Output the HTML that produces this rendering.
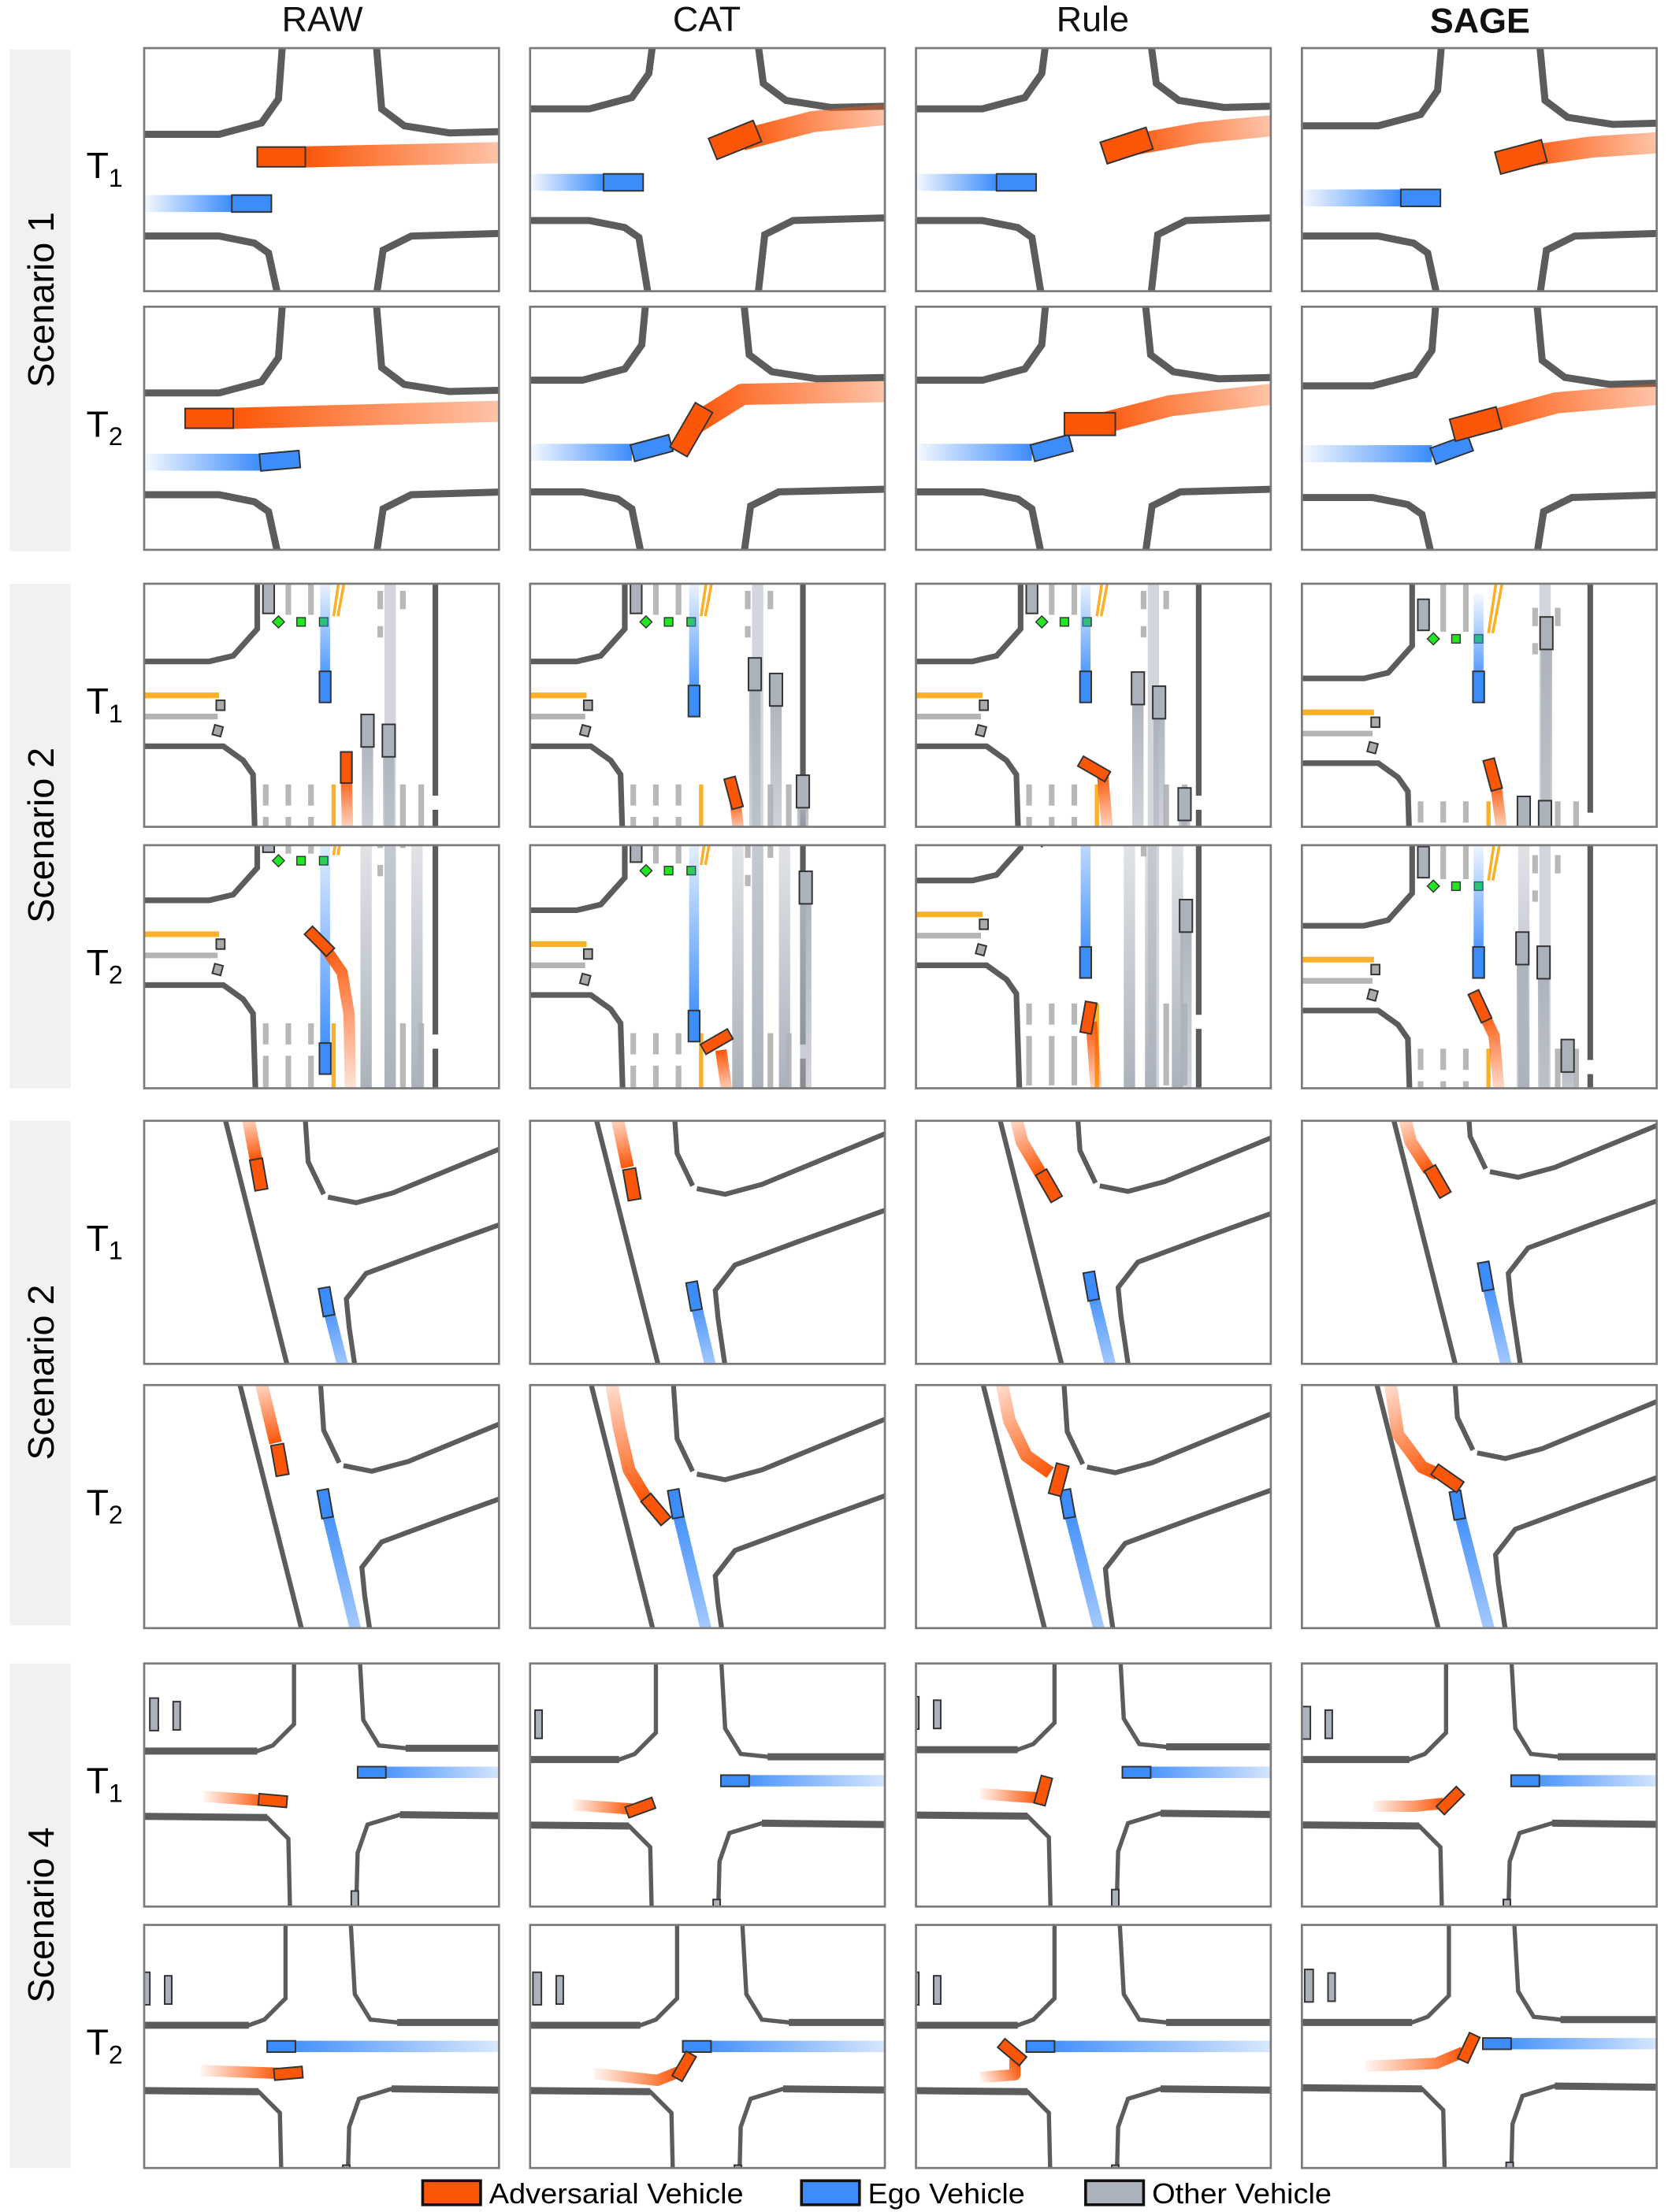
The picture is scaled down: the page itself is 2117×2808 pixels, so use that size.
<!DOCTYPE html>
<html><head><meta charset="utf-8">
<style>
html,body{margin:0;padding:0;background:#fff;}
svg{display:block;font-family:"Liberation Sans",Arial,sans-serif;}
</style></head>
<body>
<svg id="fig" xmlns="http://www.w3.org/2000/svg" width="2117" height="2808" viewBox="0 0 1180 1565.1">
<defs>
<clipPath id="pclip"><rect x="0" y="0" width="251" height="172"/></clipPath>
</defs>
<g font-size="25" text-anchor="middle" fill="#111">
<text x="228" y="22">RAW</text>
<text x="500" y="22">CAT</text>
<text x="773" y="22">Rule</text>
<text x="1047" y="23" font-weight="bold">SAGE</text>
</g>
<g>
<rect x="7" y="35" width="43" height="355" fill="#f1f1f1"/>
<rect x="7" y="413" width="43" height="357" fill="#f1f1f1"/>
<rect x="7" y="793" width="43" height="357" fill="#f1f1f1"/>
<rect x="7" y="1177" width="43" height="357" fill="#f1f1f1"/>
<text font-size="26" text-anchor="middle" transform="translate(38,212) rotate(-90)">Scenario 1</text>
<text font-size="26" text-anchor="middle" transform="translate(38,591) rotate(-90)">Scenario 2</text>
<text font-size="26" text-anchor="middle" transform="translate(38,971) rotate(-90)">Scenario 2</text>
<text font-size="26" text-anchor="middle" transform="translate(38,1355) rotate(-90)">Scenario 4</text>
</g>
<g id="tlabels" font-size="26"></g>
<g id="panels"></g>
<g font-size="20">
<rect x="299" y="1543" width="41" height="17" fill="#fc5608" stroke="#111" stroke-width="2"/>
<text x="346" y="1559" textLength="180" lengthAdjust="spacingAndGlyphs">Adversarial Vehicle</text>
<rect x="567" y="1543" width="41" height="17" fill="#3c8cfc" stroke="#111" stroke-width="2"/>
<text x="614" y="1559" textLength="111" lengthAdjust="spacingAndGlyphs">Ego Vehicle</text>
<rect x="768" y="1543" width="41" height="17" fill="#acb2bc" stroke="#111" stroke-width="2"/>
<text x="815" y="1559" textLength="127" lengthAdjust="spacingAndGlyphs">Other Vehicle</text>
</g>
</svg>
<script>
// ---- layout data ----
const colX = [102, 375, 648, 921];
const rowY = [34, 217, 413, 598, 793, 980, 1177, 1362];
const colNames = ['raw', 'cat', 'rule', 'sage'];
const rowScen = [1, 1, 2, 2, 3, 3, 4, 4];
const rowTime = [1, 2, 1, 2, 1, 2, 1, 2];

// ---- scenario 1: road params [l, r, t, b] per row(0..1) x col ----
const s1Road = [
  [[98,164,61,133],[87,161,43,122],[92,166,43,122],[99,168,55,133]],
  [[98,164,61,133],[82,151,52,131],[92,162,52,131],[95,166,56,135]]
];
// vehicles: [cx, cy, w, h, rot]
const s1Adv = [
  [[97,77,34,14,0],[145,65,34,16,-22],[149,69,34,16,-18],[155,77,34,16,-15]],
  [[46,79,34,14,0],[114,87,36,14,-60],[123,83,36,16,0],[123,83,34,16,-15]]
];
const s1AdvTrail = [
  [[[251,74],[114,77]], [[251,47],[200,52],[150,65]], [[251,55],[200,60],[150,69]], [[251,67],[205,70],[155,77]]],
  [[[251,74],[63,79]], [[251,60],[150,62],[118,82]], [[251,62],[180,70],[130,83]], [[251,62],[180,68],[125,83]]]
];
const s1Ego = [
  [[76,110,28,12,0],[66,95,28,12,0],[71,95,28,12,0],[84,106,28,12,0]],
  [[96,109,28,12,-5],[86,100,28,12,-15],[96,100,28,12,-15],[106,101,28,12,-20]]
];
const s1EgoTrail = [
  [[[0,110],[62,110]], [[0,95],[52,95]], [[0,95],[57,95]], [[0,106],[70,106]]],
  [[[0,110],[82,110]], [[0,103],[72,103]], [[0,103],[82,103]], [[0,104],[92,104]]]
];

// ---- scenario 2 (urban crossing) ----
const s2Shift = [[[0,0],[-13,0],[-6,0],[-2,12]], [[0,-16],[-13,-9],[-6,-30],[-2,2]]];
const s2Ego = [[[128,73,0],[116,83,0],[120,73,0],[125,73,0]], [[128,151,0],[116,128,0],[120,83,0],[125,83,0]]];
const s2Adv = [[[143,130,0],[144,148,-15],[126,131,-60],[135,135,-15]], [[124,68,-45],[132,139,60],[122,122,10],[126,114,-25]]];
const s2AdvTrail = [
  [[[144,180],[143,135]], [[148,180],[145,152]], [[136,180],[132,135]], [[142,180],[137,140]]],
  [[[146,180],[145,120],[140,90],[126,70]], [[140,180],[135,145]], [[128,180],[124,125]], [[140,180],[136,135],[128,118]]]
];
const s2Others = [
  [[[158,104],[173,111]], [[159,64],[174,75],[193,147]], [[157,74],[172,84],[190,156]], [[173,35],[157,162],[172,165]]],
  [[], [[195,30]], [[191,50]], [[156,73],[171,83],[188,149]]]
];
// extra full-height gray trajectory lanes (x positions) for T2 panels
const s2Lanes = [
  [[], [], [], []],
  [[157,174,193], [147,161,180], [151,166,185], [157]]
];

// ---- scenario 3 (diagonal road) ----
const s3Shift = [[[0,0],[-12,-6],[0,-8],[3,-18]], [[11,3],[-12,9],[-9,4],[-6,-6]]];
const s3Adv = [[[81,38,-10],[72,45,-10],[94,46,-30],[96,43,-30]], [[96,53,-10],[89,88,-40],[101,67,15],[103,66,-55]]];
const s3AdvTrail = [
  [[[73,-5],[79,27]], [[61,-5],[69,33]], [[70,-5],[75,15],[88,37]], [[72,-5],[77,15],[90,35]]],
  [[[82,-5],[93,41]], [[57,-5],[63,30],[70,60],[82,80]], [[60,-5],[66,25],[78,50],[95,62]], [[62,-5],[68,35],[85,58],[96,63]]]
];
const s3Ego = [[[129,128,-10],[116,124,-10],[124,117,-10],[130,110,-10]], [[128,84,-10],[103,84,-10],[107,84,-10],[110,85,-10]]];
const s3EgoEnd = [[[141,175],[128,175],[138,175],[145,175]], [[150,175],[125,175],[130,175],[133,175]]];

// ---- scenario 4 (four-way) ----
const s4Shift = [[[0,0],[-17,6],[-8,-1],[-4,6]], [[-6,9],[-2,9],[-8,9],[-2,7]]];
const s4Ego = [[[161,77],[145,83],[156,77],[158,83]], [[97,86],[118,86],[88,86],[138,84]]];
const s4Adv = [[[91,97,5],[78,102,-20],[90,90,-75],[105,97,-45]], [[102,105,-5],[109,100,-60],[68,90,40],[118,87,-65]]];
const s4AdvTrail = [
  [[[42,94],[85,97]], [[30,100],[72,103]], [[45,92],[70,94],[86,95]], [[50,101],[80,101],[100,99]]],
  [[[40,103],[95,105]], [[45,105],[90,110],[105,104]], [[45,108],[70,106],[70,95]], [[45,100],[95,98],[114,90]]]
];

// ---- helpers ----
const NS = 'http://www.w3.org/2000/svg';
let gid = 0;
function mk(tag, attrs, parent) {
  const e = document.createElementNS(NS, tag);
  for (const k in attrs) e.setAttribute(k, attrs[k]);
  if (parent) parent.appendChild(e);
  return e;
}
const defs = document.querySelector('defs');
const ROAD = '#5c5c5c';
const ADV = '#fc5608', EGO = '#3c8cfc', OTH = '#acb2bc';

function trail(parent, pts, color, width, name, fadeOpacity) {
  const id = 'g' + (gid++);
  const a = pts[0], b = pts[pts.length - 1];
  const lg = mk('linearGradient', {id: id, gradientUnits: 'userSpaceOnUse', x1: a[0], y1: a[1], x2: b[0], y2: b[1]}, defs);
  mk('stop', {offset: '0', 'stop-color': color, 'stop-opacity': fadeOpacity}, lg);
  mk('stop', {offset: '1', 'stop-color': color, 'stop-opacity': '1'}, lg);
  const d = 'M' + pts.map(p => p[0] + ',' + p[1]).join(' L');
  const p = mk('path', {d: d, fill: 'none', stroke: 'url(#' + id + ')', 'stroke-width': width, 'stroke-linejoin': 'round'}, parent);
  
  
  return p;
}
function car(parent, cx, cy, w, h, rot, fill, name) {
  const r = mk('rect', {x: cx - w / 2, y: cy - h / 2, width: w, height: h, fill: fill, stroke: '#333', 'stroke-width': 1.1,
    transform: 'rotate(' + rot + ' ' + cx + ' ' + cy + ')'}, parent);
  
  
  return r;
}
function road(parent, d, w, name, color) {
  const p = mk('path', {d: d, fill: 'none', stroke: color || ROAD, 'stroke-width': w, 'stroke-linejoin': 'miter'}, parent);
  
  
  return p;
}

// ---- scenario drawers ----
function drawS1(g, t, c) {
  const [l, r, tp, b] = s1Road[t][c];
  road(g, `M-5,${tp} L${l-45},${tp} L${l-15},${tp-8} L${l-3},${tp-25} L${l},-5`, 5, 'curb-top-left');
  road(g, `M${r},-5 L${r+4},${tp-18} L${r+20},${tp-6} L${r+52},${tp-1} L256,${tp-2}`, 5, 'curb-top-right');
  road(g, `M-5,${b} L${l-45},${b} L${l-20},${b+5} L${l-10},${b+12} L${l-3},177`, 5, 'curb-bottom-left');
  road(g, `M${r},177 L${r+5},${b+10} L${r+25},${b} L256,${b-2}`, 5, 'curb-bottom-right');
  trail(g, s1EgoTrail[t][c], EGO, 12, 'ego-trajectory', 0.05);
  trail(g, s1AdvTrail[t][c], ADV, 15, 'adversarial-trajectory', 0.35);
  const e = s1Ego[t][c];
  car(g, e[0], e[1], e[2], e[3], e[4], EGO, 'ego-vehicle');
  const a = s1Adv[t][c];
  car(g, a[0], a[1], a[2], a[3], a[4], ADV, 'adversarial-vehicle');
}

function drawS2(g, t, c) {
  const [dx, dy] = s2Shift[t][c];
  const m = mk('g', {transform: `translate(${dx},${dy})`}, g);
  
  
  const stripes = [[102,-30,22],[118,-30,22],[86,142,157],[102,142,157],[118,142,157],[86,165,200],[102,165,200],[118,165,200],[183,142,200],[196,142,200],[167,5,18],[167,30,38],[183,5,18]];
  for (const s of stripes) {
    road(m, `M${s[0]},${s[1]} L${s[0]},${s[2]}`, 4, 'crosswalk-stripe', '#b8b8b8');
  }
  road(m, 'M0,79 L53,79', 4, 'lane-line-yellow', '#fbb02a');
  road(m, 'M0,94 L52,94', 4, 'lane-line-gray', '#b4b4b4');
  road(m, 'M134,142 L134,230', 3, 'center-line-yellow', '#fbb02a');
  road(m, 'M134,23 L142,-30 M137,23 L147,-30', 2, 'turn-line-yellow', '#fbb02a');
  const lt = mk('rect', {x: 170, y: -40, width: 8, height: 260, fill: '#c8ccd3', opacity: 0.8}, m);
  
  
  road(m, 'M80,-40 L80,32 L63,51 L46,55 L-10,55', 4, 'curb-top-left');
  road(m, 'M-10,115 L56,115 L70,125 L77,135 L80,230', 4, 'curb-bottom-left');
  road(m, 'M206,-40 L206,150 M206,160 L206,230', 4, 'curb-right');
  car(m, 54, 86, 6, 7, 0, '#aaaaaa', 'parked-object');
  car(m, 52, 104, 6, 7, 15, '#aaaaaa', 'parked-object');
  car(m, 88, 10, 8, 22, 0, OTH, 'other-vehicle');
  for (const q of [[95,27,45],[111,27,0],[127,27,0]]) {
    const gs = mk('rect', {x: q[0]-3, y: q[1]-3, width: 6, height: 6, fill: '#22e622', stroke: '#333', 'stroke-width': 0.8, transform: `rotate(${q[2]} ${q[0]} ${q[1]})`}, m);
    
    
  }
  for (const x of s2Lanes[t][c]) {
    trail(g, [[x, -5], [x, 172]], OTH, 8, 'other-vehicle-trajectory', 0.35);
  }
  for (const o of s2Others[t][c]) {
    trail(g, [[o[0], 190], [o[0], o[1]]], OTH, 8, 'other-vehicle-trajectory', 0.5);
  }
  const e = s2Ego[t][c];
  trail(g, [[e[0], -5 + dy], [e[0], e[1]]], EGO, 7, 'ego-trajectory', 0.05);
  trail(g, s2AdvTrail[t][c], ADV, 8, 'adversarial-trajectory', 0.1);
  for (const o of s2Others[t][c]) car(g, o[0], o[1], 9, 23, 0, OTH, 'other-vehicle');
  car(g, e[0], e[1], 8, 22, e[2], EGO, 'ego-vehicle');
  const a = s2Adv[t][c];
  car(g, a[0], a[1], 8, 22, a[2], ADV, 'adversarial-vehicle');
}

function drawS3(g, t, c) {
  const [dx, dy] = s3Shift[t][c];
  const m = mk('g', {transform: `translate(${dx},${dy})`}, g);
  
  
  road(m, 'M50,-30 L108,200', 3.5, 'road-edge-left');
  road(m, 'M112,-30 L116,29 L127,52 M130,54 L150,58 L176,51 L300,0', 3.5, 'road-edge-upper-right');
  road(m, 'M300,56 L203,91 L157,108 L143,126 L145,146 L153,200', 3.5, 'road-edge-lower-right');
  trail(g, s3AdvTrail[t][c], ADV, 9, 'adversarial-trajectory', 0.15);
  const e = s3Ego[t][c];
  trail(g, [s3EgoEnd[t][c], [e[0], e[1]]], EGO, 8, 'ego-trajectory', 0.45);
  car(g, e[0], e[1], 8, 20, e[2], EGO, 'ego-vehicle');
  const a = s3Adv[t][c];
  car(g, a[0], a[1], 9, 22, a[2], ADV, 'adversarial-vehicle');
}

function drawS4(g, t, c) {
  const [dx, dy] = s4Shift[t][c];
  const m = mk('g', {transform: `translate(${dx},${dy})`}, g);
  
  
  road(m, 'M106,-30 L106,43 L91,58 L80,62 L-20,62', 3, 'curb-top-left');
  road(m, 'M80,62 L-20,62', 5, 'curb-top-left-edge');
  road(m, 'M151,-30 L155,40 L166,58 L185,60 L270,60', 3, 'curb-top-right');
  road(m, 'M185,60 L270,60', 5, 'curb-top-right-edge');
  road(m, 'M-20,108 L87,109 L102,124 L104,210', 3, 'curb-bottom-left');
  road(m, 'M-20,108 L87,109', 5, 'curb-bottom-left-edge');
  road(m, 'M270,108 L181,107 L158,114 L151,134 L149,210', 3, 'curb-bottom-right');
  road(m, 'M270,108 L181,107', 5, 'curb-bottom-right-edge');
  car(m, 7, 36, 6, 23, 0, OTH, 'other-vehicle');
  car(m, 23, 37, 5, 20, 0, OTH, 'other-vehicle');
  car(m, 149, 168, 5, 14, 0, OTH, 'other-vehicle');
  const e = s4Ego[t][c];
  trail(g, [[260, e[1]], [e[0], e[1]]], EGO, 8, 'ego-trajectory', 0.15);
  trail(g, s4AdvTrail[t][c], ADV, 8, 'adversarial-trajectory', 0.05);
  car(g, e[0], e[1], 20, 8, 0, EGO, 'ego-vehicle');
  const a = s4Adv[t][c];
  car(g, a[0], a[1], 20, 8, a[2], ADV, 'adversarial-vehicle');
}

// ---- build ----
const panels = document.getElementById('panels');
const tl = document.getElementById('tlabels');
for (let r = 0; r < rowY.length; r++) {
  const tx = mk('text', {x: 61, y: rowY[r] + 92}, tl);
  
  
  tx.textContent = 'T';
  const sub = mk('tspan', {'font-size': 18, dy: 6}, tx);
  sub.textContent = String(rowTime[r]);
  for (let c = 0; c < 4; c++) {
    const pg = mk('g', {transform: `translate(${colX[c]},${rowY[r]})`}, panels);
    
    
    const bg = mk('rect', {x: 0, y: 0, width: 251, height: 172, fill: '#fff'}, pg);
    
    
    const g = mk('g', {'clip-path': 'url(#pclip)'}, pg);
    
    
    const t = rowTime[r] - 1, s = rowScen[r];
    if (s === 1) drawS1(g, t, c);
    else if (s === 2) drawS2(g, t, c);
    else if (s === 3) drawS3(g, t, c);
    else drawS4(g, t, c);
    const bd = mk('rect', {x: 0, y: 0, width: 251, height: 172, fill: 'none', stroke: '#7a7a7a', 'stroke-width': 1.5}, pg);
    
    
  }
}
</script>
</body></html>
